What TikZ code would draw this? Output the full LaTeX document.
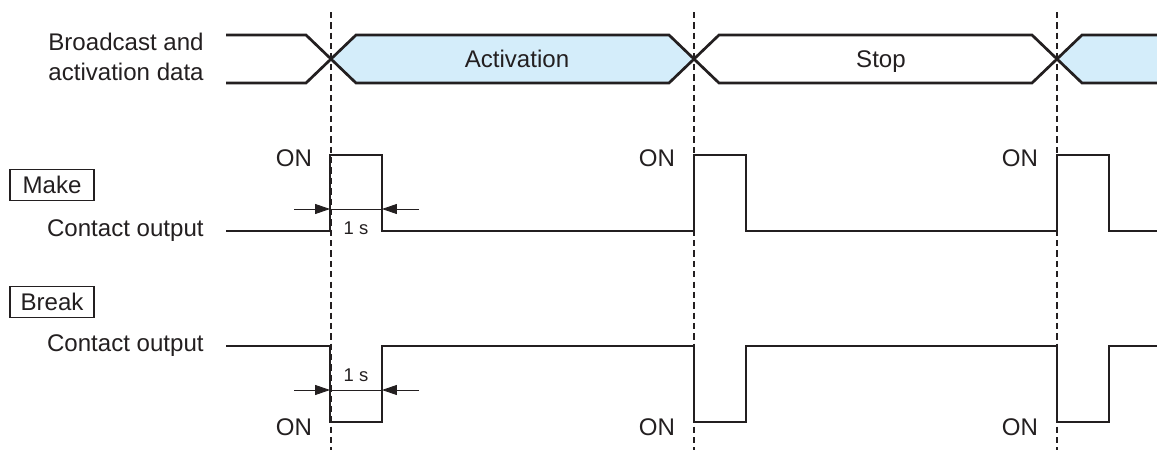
\documentclass[tikz,border=0pt]{standalone}
\usepackage{fontspec}
\setmainfont{Liberation Sans}
\usetikzlibrary{arrows.meta}
\definecolor{Sky}{RGB}{212,237,250}
\definecolor{Ink}{RGB}{35,31,32}

\begin{document}
\begin{tikzpicture}[x=0.02cm,y=-0.02cm,font=\fontsize{13.7}{17}\selectfont,color=Ink,
  sig/.style={line width=1.55pt,line join=miter},
  dim/.style={line width=0.5pt},
  tip/.style={-{Triangle[length=8.5pt,width=5.7pt]}},
  tag/.style={draw,line width=0.6pt,minimum width=1.68cm,minimum height=0.62cm,inner sep=0pt},
  lbl/.style={anchor=east,align=right,inner sep=0pt},
  small/.style={font=\fontsize{10.5}{12}\selectfont}]
\useasboundingbox (0,0) rectangle (1157,450);
% data bus
\fill[Sky] (331,59)--(356,35)--(669,35)--(694,59)--(669,83)--(356,83)--cycle;
\fill[Sky] (1057,59)--(1082,35)--(1157,35)--(1157,83)--(1082,83)--cycle;
\draw[sig] (226,35)--(306,35)--(356,83)--(669,83)--(719,35)--(1032,35)--(1082,83)--(1157,83);
\draw[sig] (226,83)--(306,83)--(356,35)--(669,35)--(719,83)--(1032,83)--(1082,35)--(1157,35);
\node[anchor=base] (act) at (517,67) {Activation};
\node[anchor=base] (stop) at (881,67) {Stop};
% time marks
\foreach \t in {331,694,1057}{
  \draw[dim,line width=0.6pt,dash pattern=on 3.6pt off 2.3pt] (\t,12)--(\t,450);
  \node (on\t) at (\t-37,158) {ON};
  \node (off\t) at (\t-37,427) {ON};}
% contact outputs
\draw[sig] (226,231) \foreach \t in {330,694,1057}{--(\t,231)--(\t,155)--(\t+52,155)--(\t+52,231)} --(1157,231);
\draw[sig] (226,346) \foreach \t in {330,694,1057}{--(\t,346)--(\t,422)--(\t+52,422)--(\t+52,346)} --(1157,346);
% labels
\node[lbl] (bus) at (204,57) {Broadcast and\\activation data};
\node[tag] (make) at (52,185) {Make};
\node[lbl] (mkout) at (204,231) {Contact output};
\node[tag] (break) at (52,302) {Break};
\node[lbl] (bkout) at (204,346) {Contact output};
% 1 s widths
\foreach \y/\n/\s in {209/mk/228,390/bk/375}{
  \coordinate (\n-l) at (294,\y); \coordinate (\n-a) at (330,\y);
  \coordinate (\n-b) at (382,\y); \coordinate (\n-r) at (419,\y);
  \draw[dim] (\n-a)--(\n-b);
  \draw[dim,tip] (\n-l)--(\n-a);
  \draw[dim,tip] (\n-r)--(\n-b);
  \node[small] (\n-s) at (356,\s) {1 s};}
\end{tikzpicture}
\end{document}
